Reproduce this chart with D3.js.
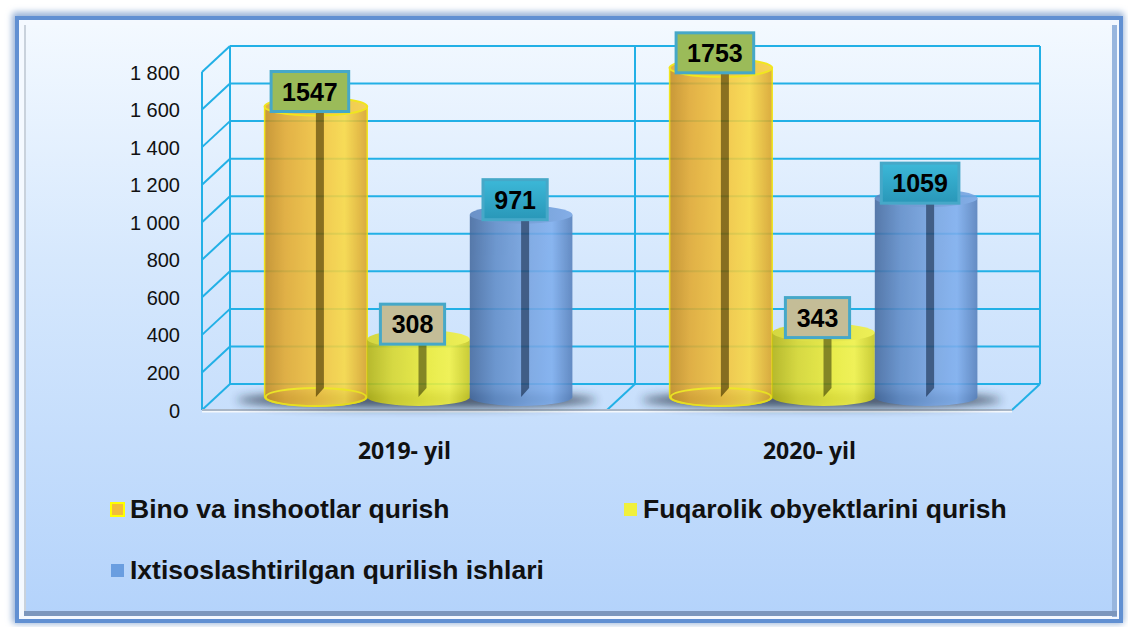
<!DOCTYPE html>
<html>
<head>
<meta charset="utf-8">
<script src="https://cdn.jsdelivr.net/npm/d3@7"></script>
<style>
  body { margin: 0; background: #fff; }
  svg { display: block; }
</style>
</head>
<body>
<div id="chart"></div>
<script>
// data
var categories = ["2019- yil", "2020- yil"];
var seriesNames = ["Bino va inshootlar qurish", "Fuqarolik obyektlarini qurish", "Ixtisoslashtirilgan qurilish ishlari"];
var binoValues = [1547, 1753];
var fuqarolikValues = [308, 343];
var ixtisosValues = [971, 1059];
var yTicks = [0, 200, 400, 600, 800, 1000, 1200, 1400, 1600, 1800];

var seriesValues = [binoValues, fuqarolikValues, ixtisosValues];

// looks
var gridColor = "#22b0e6";
var stripeColor = ["#7d5e02", "#7a7a08", "#2d4b76"];
var labelFill = ["#9bbb59", "#c4bd97", "url(#lab3)"];
var legendFill = ["#f2bd3a", "#f0f03c", "#6a9ee0"];

var W = 1128, H = 627;
var depth = {dx: 28, dy: -26};
var front = {left: 202, right: 1012};

var svg = d3.select("#chart").append("svg")
  .attr("width", W).attr("height", H);

var defs = svg.append("defs");

function linGrad(id, stops, vertical) {
  var g = defs.append("linearGradient").attr("id", id)
    .attr("x1", 0).attr("y1", 0)
    .attr("x2", vertical ? 0 : 1).attr("y2", vertical ? 1 : 0);
  stops.forEach(function(s) {
    g.append("stop").attr("offset", s[0]).attr("stop-color", s[1]);
  });
}
linGrad("panel", [[0, "#f3f9ff"], [0.4, "#d6e8fd"], [1, "#b4d3fb"]], true);
linGrad("body0", [[0, "#c48c1e"], [0.2, "#e2a92e"], [0.55, "#f4c53a"], [0.78, "#fad941"], [1, "#d9a226"]]);
linGrad("body1", [[0, "#b4b412"], [0.25, "#d8d82a"], [0.6, "#eeee36"], [0.8, "#f4f443"], [1, "#c9c91c"]]);
linGrad("body2", [[0, "#44699e"], [0.25, "#5f8cc8"], [0.6, "#78a5e2"], [0.8, "#7eaeee"], [1, "#557fbb"]]);
linGrad("top0", [[0, "#e2a82c"], [1, "#f7cf3e"]]);
linGrad("top1", [[0, "#d6d628"], [1, "#f2f240"]]);
linGrad("top2", [[0, "#5b85c0"], [1, "#78a6e4"]]);
linGrad("lab3", [[0, "#3cb8d8"], [1, "#2997b8"]], true);

var blur = defs.append("filter").attr("id", "blur")
  .attr("x", "-20%").attr("y", "-200%").attr("width", "140%").attr("height", "500%");
blur.append("feGaussianBlur").attr("stdDeviation", 5);
var soft = defs.append("filter").attr("id", "soft")
  .attr("x", "-5%").attr("y", "-5%").attr("width", "110%").attr("height", "110%");
soft.append("feGaussianBlur").attr("stdDeviation", 3);

// frame
svg.append("rect").attr("x", 12).attr("y", 12).attr("width", 1112).attr("height", 612)
  .attr("rx", 4).attr("fill", "#9ab4d8").attr("filter", "url(#soft)");
svg.append("rect").attr("x", 15).attr("y", 16).attr("width", 1108).attr("height", 607)
  .attr("fill", "#6190d2");
svg.append("rect").attr("x", 19).attr("y", 20).attr("width", 1100).attr("height", 599)
  .attr("fill", "#f4f9ff");
svg.append("rect").attr("x", 24).attr("y", 25).attr("width", 1092).attr("height", 589)
  .attr("fill", "url(#panel)");
svg.append("rect").attr("x", 24).attr("y", 25).attr("width", 2).attr("height", 589)
  .attr("fill", "#c9d2dc");
svg.append("rect").attr("x", 1112).attr("y", 25).attr("width", 5).attr("height", 592)
  .attr("fill", "#98b6de");
svg.append("rect").attr("x", 24).attr("y", 611).attr("width", 1093).attr("height", 5)
  .attr("fill", "#7c97bd");

// scales
var yFront = d3.scaleLinear().domain([0, 1800]).range([410, 72]);
function yBack(v) { return yFront(v) + depth.dy; }
function yMid(v) { return yFront(v) + depth.dy / 2; }

var x0 = d3.scaleBand().domain(categories).range([front.left, front.right])
  .paddingInner(0.24).paddingOuter(0.12);
var x1 = d3.scaleBand().domain(d3.range(seriesNames.length)).range([0, x0.bandwidth()]);

var step = (front.right - front.left) / categories.length;

// 3d grid
var grid = svg.append("g").attr("fill", "none").attr("stroke", gridColor).attr("stroke-width", 2);
var backL = front.left + depth.dx, backR = front.right + depth.dx;
grid.selectAll(".hl").data(yTicks).join("line")
  .attr("x1", backL).attr("x2", backR)
  .attr("y1", yBack).attr("y2", yBack);
grid.selectAll(".dl").data(yTicks).join("line")
  .attr("x1", front.left).attr("x2", backL)
  .attr("y1", function(d) { return yFront(d); }).attr("y2", yBack);
grid.append("line").attr("x1", front.left).attr("x2", front.left)
  .attr("y1", yFront(0)).attr("y2", yFront(1800));
grid.selectAll(".vl").data(d3.range(categories.length + 1)).join("line")
  .attr("x1", function(i) { return backL + i * step; }).attr("x2", function(i) { return backL + i * step; })
  .attr("y1", yBack(0)).attr("y2", yBack(1800));
grid.selectAll(".fl").data(d3.range(1, categories.length + 1)).join("line")
  .attr("x1", function(i) { return front.left + i * step; })
  .attr("x2", function(i) { return backL + i * step; })
  .attr("y1", yFront(0)).attr("y2", yBack(0));
// floor front edge
svg.append("line").attr("x1", front.left).attr("x2", front.right)
  .attr("y1", yFront(0) + 1.5).attr("y2", yFront(0) + 1.5)
  .attr("stroke", "#f4f8fc").attr("stroke-width", 2);
svg.append("line").attr("x1", front.left).attr("x2", front.right)
  .attr("y1", yFront(0)).attr("y2", yFront(0))
  .attr("stroke", "#a9b6c6").attr("stroke-width", 2);

// y labels
var fmt = d3.formatLocale({decimal: ",", thousands: " ", grouping: [3], currency: ["", ""]}).format(",d");
var yAxis = svg.append("g").attr("transform", "translate(180,0)")
  .call(d3.axisLeft(yFront).tickValues(yTicks).tickFormat(fmt).tickSize(0).tickPadding(0));
yAxis.select(".domain").remove();
yAxis.selectAll("text").attr("font-family", "Liberation Sans, Arial, sans-serif")
  .attr("font-size", 20).attr("fill", "#111").attr("dy", "0.35em");

// category labels
svg.selectAll(".cat").data(categories).join("text")
  .attr("x", function(d) { return x0(d) + x0.bandwidth() / 2; })
  .attr("y", 459)
  .attr("text-anchor", "middle")
  .attr("font-family", "Open Sans, sans-serif").attr("font-weight", "bold").attr("font-size", 23)
  .attr("fill", "#111").text(function(d) { return d; });

// bars
var ry = 9;
var bars = [];
categories.forEach(function(c, ci) {
  seriesValues.forEach(function(vals, si) {
    bars.push({cat: c, s: si, v: vals[ci]});
  });
});

var groups = svg.selectAll(".grp").data(categories).join("g");
groups.append("ellipse")
  .attr("cx", function(d) { return x0(d) + depth.dx / 2 + x0.bandwidth() / 2 - 2; })
  .attr("cy", yMid(0) + 3)
  .attr("rx", x0.bandwidth() / 2 + 26).attr("ry", 8)
  .attr("fill", "#1e2b3c").attr("opacity", 0.75).attr("filter", "url(#blur)");

var bar = svg.selectAll(".bar").data(bars).join("g").attr("opacity", 0.88);
function bx(d) { return x0(d.cat) + depth.dx / 2 + x1(d.s); }
var bw = x1.bandwidth();

bar.append("path")
  .attr("d", function(d) {
    var l = bx(d), r = l + bw, t = yMid(d.v), b = yMid(0);
    return "M" + l + "," + t + "L" + l + "," + b +
      "A" + (bw / 2) + "," + ry + " 0 0 0 " + r + "," + b + "L" + r + "," + t + "Z";
  })
  .attr("fill", function(d) { return "url(#body" + d.s + ")"; })
  .attr("stroke", function(d) { return d.s === 0 ? "#f2e400" : "none"; })
  .attr("stroke-width", 1.5);
bar.filter(function(d) { return d.s === 0; }).append("ellipse")
  .attr("cx", function(d) { return bx(d) + bw / 2; }).attr("cy", yMid(0))
  .attr("rx", bw / 2 - 1).attr("ry", ry)
  .attr("fill", "none").attr("stroke", "#f6ea10").attr("stroke-width", 2);
bar.append("ellipse")
  .attr("cx", function(d) { return bx(d) + bw / 2; })
  .attr("cy", function(d) { return yMid(d.v); })
  .attr("rx", bw / 2).attr("ry", ry)
  .attr("fill", function(d) { return "url(#top" + d.s + ")"; })
  .attr("stroke", function(d) { return d.s === 0 ? "#f2e400" : "none"; })
  .attr("stroke-width", 2);

// leader stripes
bar.append("path")
  .attr("d", function(d) {
    var cx = bx(d) + bw / 2, t = yMid(d.v);
    return "M" + cx + "," + t + "L" + (cx + 8) + "," + t + "L" + (cx + 8) + "," + (yMid(0) - 9) +
      "L" + cx + "," + yMid(0) + "Z";
  })
  .attr("fill", function(d) { return stripeColor[d.s]; });

// value labels
var lab = svg.selectAll(".lab").data(bars).join("g")
  .attr("transform", function(d) {
    return "translate(" + (bx(d) + bw / 2 - 6) + "," + (yMid(d.v) - 15) + ")";
  });
lab.append("rect")
  .attr("x", function(d) { var w = String(d.v).length * 13.4 + 24; return -w / 2; })
  .attr("y", -20)
  .attr("width", function(d) { return String(d.v).length * 13.4 + 24; })
  .attr("height", 40)
  .attr("fill", function(d) { return labelFill[d.s]; })
  .attr("stroke", "#46a8c8").attr("stroke-width", 3);
lab.append("text")
  .attr("text-anchor", "middle").attr("dy", "0.36em")
  .attr("font-family", "Liberation Sans, Arial, sans-serif").attr("font-weight", "bold")
  .attr("font-size", 25).attr("fill", "#000")
  .text(function(d) { return d.v; });

// legend
var legendPos = [[110, 509], [623, 509], [110, 570]];
var leg = svg.selectAll(".leg").data(seriesNames).join("g")
  .attr("transform", function(d, i) { return "translate(" + legendPos[i][0] + "," + legendPos[i][1] + ")"; });
leg.append("rect").attr("x", 1).attr("y", -6).attr("width", 13).attr("height", 13)
  .attr("fill", function(d, i) { return legendFill[i]; })
  .attr("stroke", function(d, i) { return i === 0 ? "#ffff00" : "none"; })
  .attr("stroke-width", 2);
leg.append("text").attr("x", 20).attr("y", 9)
  .attr("font-family", "Liberation Sans, Arial, sans-serif").attr("font-weight", "bold")
  .attr("font-size", 26.5).attr("fill", "#111")
  .text(function(d) { return d; });
</script>
</body>
</html>
